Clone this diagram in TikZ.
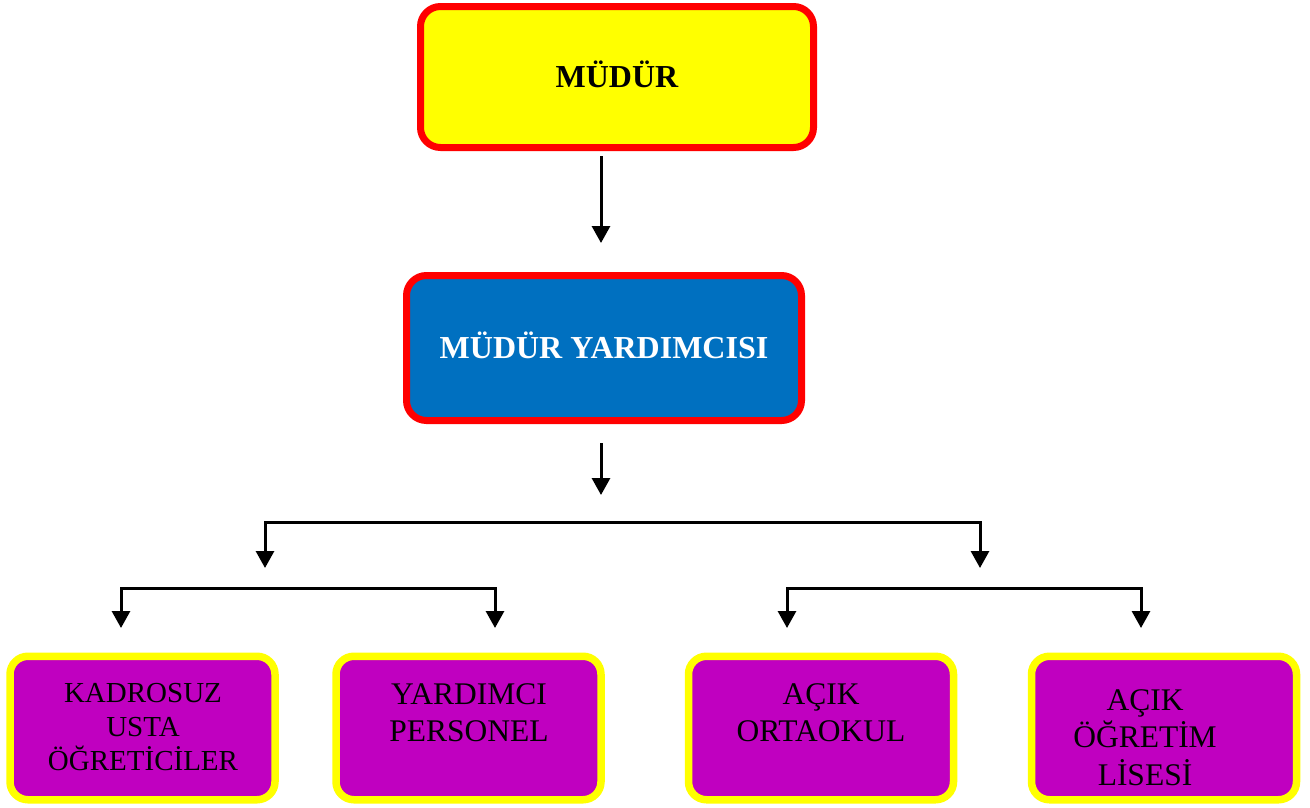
\documentclass[tikz,border=0pt]{standalone}
\usepackage{fontspec}
\setmainfont{Liberation Serif}
\usetikzlibrary{arrows.meta,positioning}
\definecolor{bossyellow}{HTML}{FFFF00}
\definecolor{bossred}{HTML}{FF0000}
\definecolor{deputyblue}{HTML}{0070C0}
\definecolor{unitpurple}{HTML}{C000C0}

\begin{document}
\begin{tikzpicture}[x=1pt,y=-1pt,>={Triangle[width=18pt,length=17pt]},line width=3pt,
    chief/.style={draw=bossred,fill=bossyellow,line width=7pt,rounded corners=20pt,minimum width=393pt,minimum height=141pt,inner sep=0pt,
        font=\fontsize{32}{38}\selectfont\bfseries,text height=21pt,text depth=0pt},
    deputy/.style={chief,fill=deputyblue,text=white,minimum width=395pt,minimum height=145pt},
    unit/.style={draw=bossyellow,fill=unitpurple,line width=7.5pt,rounded corners=18pt,minimum width=265pt,minimum height=143.5pt,inner sep=0pt},
    unittext/.style={anchor=north,align=center,inner sep=0pt,font=\fontsize{31.5}{37.5}\selectfont}]
                \useasboundingbox (0,0) rectangle (1310,807);
                \node[chief](mudur)at(617,77){MÜDÜR};
                \node[deputy](yrd)at(604,348){MÜDÜR YARDIMCISI};
                \node[unit](kadro)at(142.5,728){};
                \node[unit](pers)at(468.5,728){};
                \node[unit](orta)at(821,728){};
                \node[unit](lise)at(1164,728){};
                \node[unittext,font=\fontsize{29}{34}\selectfont](kadrot)at(143,682){KADROSUZ\\USTA\\ÖĞRETİCİLER};
                \node[unittext](perst)at(469,682){YARDIMCI\\PERSONEL};
                \node[unittext](ortat)at(821,682){AÇIK\\ORTAOKUL};
                \node[unittext](liset)at(1145,688){AÇIK\\ÖĞRETİM\\LİSESİ};
                \coordinate(a1s)at(601,156);
                \coordinate(a1e)at(601,243);
                \coordinate(a2s)at(601,443);
                \coordinate(a2e)at(601,495);
                \coordinate(b1l)at(265,522);
                \coordinate(b1r)at(980,522);
                \coordinate(b1le)at(265,568);
                \coordinate(b1re)at(980,568);
                \coordinate(b2l)at(121,588);
                \coordinate(b2r)at(495,588);
                \coordinate(b2le)at(121,628);
                \coordinate(b2re)at(495,628);
                \coordinate(b3l)at(787,588);
                \coordinate(b3r)at(1141,588);
                \coordinate(b3le)at(787,628);
                \coordinate(b3re)at(1141,628);
                \draw[->](a1s)--(a1e);
                \draw[->](a2s)--(a2e);
                \draw[<->](b1le)--(b1l)--(b1r)--(b1re);
                \draw[<->](b2le)--(b2l)--(b2r)--(b2re);
                \draw[<->](b3le)--(b3l)--(b3r)--(b3re);
            \end{tikzpicture}
\end{document}
